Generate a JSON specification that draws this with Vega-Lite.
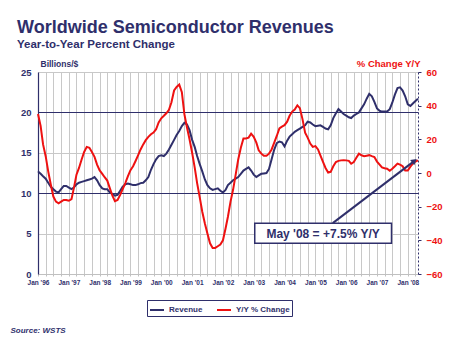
{
  "$schema": "https://vega.github.io/schema/vega-lite/v6.json",
  "width": 380,
  "height": 202,
  "autosize": "none",
  "padding": {"left": 38, "top": 72, "right": 32, "bottom": 63},
  "background": "white",
  "config": {
    "font": "Liberation Sans",
    "view": {"stroke": null},
    "axisRight": {
      "labelOverlap": false,
      "grid": false,
      "tickSize": 3,
      "tickColor": "#2f2f6b",
      "domainColor": "#2f2f6b",
      "domainDash": [2, 2],
      "labelColor": "#ee1111",
      "labelFontSize": 9.5,
      "labelFontWeight": "bold",
      "labelPadding": 5,
      "titleAngle": 0,
      "titleX": 2,
      "titleY": -6,
      "titleAlign": "right",
      "titleBaseline": "alphabetic",
      "titleFontSize": 9.5,
      "titleFontWeight": "bold",
      "titleColor": "#ee1111"
    }
  },
  "title": {
    "text": "Worldwide Semiconductor Revenues",
    "subtitle": "Year-to-Year Percent Change",
    "anchor": "start",
    "frame": "group",
    "dx": -21,
    "offset": 8,
    "fontSize": 18,
    "fontWeight": "bold",
    "color": "#2f2f6b",
    "subtitleFontSize": 11.5,
    "subtitleFontWeight": "bold",
    "subtitleColor": "#2f2f6b",
    "subtitlePadding": 2
  },
  "datasets": {
    "series": [
      {"date":"1996-01-01","revenue":12.7,"yoy":35},{"date":"1996-02-01","revenue":12.4,"yoy":28},{"date":"1996-03-01","revenue":12.1,"yoy":17},{"date":"1996-04-01","revenue":11.8,"yoy":10},{"date":"1996-05-01","revenue":11.3,"yoy":1},{"date":"1996-06-01","revenue":10.8,"yoy":-7},{"date":"1996-07-01","revenue":10.5,"yoy":-14},{"date":"1996-08-01","revenue":10.2,"yoy":-17},{"date":"1996-09-01","revenue":10.1,"yoy":-18},{"date":"1996-10-01","revenue":10.5,"yoy":-17},{"date":"1996-11-01","revenue":10.9,"yoy":-16},{"date":"1996-12-01","revenue":10.9,"yoy":-16},
      {"date":"1997-01-01","revenue":10.7,"yoy":-16.5},{"date":"1997-02-01","revenue":10.5,"yoy":-15.5},{"date":"1997-03-01","revenue":10.7,"yoy":-9},{"date":"1997-04-01","revenue":11.1,"yoy":-1},{"date":"1997-05-01","revenue":11.3,"yoy":3},{"date":"1997-06-01","revenue":11.4,"yoy":8},{"date":"1997-07-01","revenue":11.5,"yoy":12.5},{"date":"1997-08-01","revenue":11.6,"yoy":15.5},{"date":"1997-09-01","revenue":11.7,"yoy":15},{"date":"1997-10-01","revenue":11.8,"yoy":12.5},{"date":"1997-11-01","revenue":12.0,"yoy":9.6},{"date":"1997-12-01","revenue":11.6,"yoy":5},
      {"date":"1998-01-01","revenue":11.0,"yoy":1.5},{"date":"1998-02-01","revenue":10.6,"yoy":-0.5},{"date":"1998-03-01","revenue":10.5,"yoy":-2.5},{"date":"1998-04-01","revenue":10.5,"yoy":-4.5},{"date":"1998-05-01","revenue":10.1,"yoy":-9},{"date":"1998-06-01","revenue":9.9,"yoy":-13.5},{"date":"1998-07-01","revenue":9.7,"yoy":-16.7},{"date":"1998-08-01","revenue":9.8,"yoy":-16},{"date":"1998-09-01","revenue":10.3,"yoy":-13},{"date":"1998-10-01","revenue":10.8,"yoy":-9.5},{"date":"1998-11-01","revenue":11.1,"yoy":-6},{"date":"1998-12-01","revenue":11.2,"yoy":-2},
      {"date":"1999-01-01","revenue":11.1,"yoy":1.7},{"date":"1999-02-01","revenue":11.0,"yoy":4},{"date":"1999-03-01","revenue":11.0,"yoy":7},{"date":"1999-04-01","revenue":11.1,"yoy":10.5},{"date":"1999-05-01","revenue":11.25,"yoy":14},{"date":"1999-06-01","revenue":11.3,"yoy":17},{"date":"1999-07-01","revenue":11.6,"yoy":19.5},{"date":"1999-08-01","revenue":12.0,"yoy":21.5},{"date":"1999-09-01","revenue":12.9,"yoy":23},{"date":"1999-10-01","revenue":13.6,"yoy":24},{"date":"1999-11-01","revenue":14.2,"yoy":26},{"date":"1999-12-01","revenue":14.6,"yoy":30},
      {"date":"2000-01-01","revenue":14.7,"yoy":32.5},{"date":"2000-02-01","revenue":14.6,"yoy":34},{"date":"2000-03-01","revenue":14.9,"yoy":35.5},{"date":"2000-04-01","revenue":15.4,"yoy":37.5},{"date":"2000-05-01","revenue":16.0,"yoy":42},{"date":"2000-06-01","revenue":16.6,"yoy":49},{"date":"2000-07-01","revenue":17.2,"yoy":51.1},{"date":"2000-08-01","revenue":17.7,"yoy":52.5},{"date":"2000-09-01","revenue":18.3,"yoy":48},{"date":"2000-10-01","revenue":18.7,"yoy":35},{"date":"2000-11-01","revenue":18.5,"yoy":27},{"date":"2000-12-01","revenue":17.8,"yoy":20},
      {"date":"2001-01-01","revenue":16.6,"yoy":12},{"date":"2001-02-01","revenue":15.7,"yoy":3},{"date":"2001-03-01","revenue":14.6,"yoy":-6},{"date":"2001-04-01","revenue":13.6,"yoy":-14.5},{"date":"2001-05-01","revenue":12.7,"yoy":-23},{"date":"2001-06-01","revenue":11.7,"yoy":-30},{"date":"2001-07-01","revenue":11.0,"yoy":-36},{"date":"2001-08-01","revenue":10.6,"yoy":-41.8},{"date":"2001-09-01","revenue":10.4,"yoy":-44.5},{"date":"2001-10-01","revenue":10.5,"yoy":-44.5},{"date":"2001-11-01","revenue":10.6,"yoy":-43.5},{"date":"2001-12-01","revenue":10.3,"yoy":-42.5},
      {"date":"2002-01-01","revenue":10.1,"yoy":-40},{"date":"2002-02-01","revenue":10.4,"yoy":-33},{"date":"2002-03-01","revenue":11.0,"yoy":-26},{"date":"2002-04-01","revenue":11.3,"yoy":-17},{"date":"2002-05-01","revenue":11.6,"yoy":-10},{"date":"2002-06-01","revenue":11.8,"yoy":-1},{"date":"2002-07-01","revenue":12.0,"yoy":8},{"date":"2002-08-01","revenue":12.4,"yoy":15},{"date":"2002-09-01","revenue":12.8,"yoy":20.5},{"date":"2002-10-01","revenue":13.0,"yoy":20.5},{"date":"2002-11-01","revenue":13.2,"yoy":21},{"date":"2002-12-01","revenue":12.8,"yoy":23.4},
      {"date":"2003-01-01","revenue":12.3,"yoy":21.5},{"date":"2003-02-01","revenue":12.0,"yoy":18},{"date":"2003-03-01","revenue":12.2,"yoy":13.5},{"date":"2003-04-01","revenue":12.4,"yoy":11.5},{"date":"2003-05-01","revenue":12.45,"yoy":10.2},{"date":"2003-06-01","revenue":12.5,"yoy":10.2},{"date":"2003-07-01","revenue":13.0,"yoy":11.5},{"date":"2003-08-01","revenue":14.2,"yoy":14},{"date":"2003-09-01","revenue":15.4,"yoy":18},{"date":"2003-10-01","revenue":16.2,"yoy":22},{"date":"2003-11-01","revenue":16.4,"yoy":26.5},{"date":"2003-12-01","revenue":16.3,"yoy":27.5},
      {"date":"2004-01-01","revenue":15.8,"yoy":28.4},{"date":"2004-02-01","revenue":16.5,"yoy":30.5},{"date":"2004-03-01","revenue":17.0,"yoy":34},{"date":"2004-04-01","revenue":17.3,"yoy":36.5},{"date":"2004-05-01","revenue":17.6,"yoy":37.7},{"date":"2004-06-01","revenue":17.8,"yoy":40.2},{"date":"2004-07-01","revenue":18.0,"yoy":38.5},{"date":"2004-08-01","revenue":18.2,"yoy":32},{"date":"2004-09-01","revenue":18.4,"yoy":24},{"date":"2004-10-01","revenue":18.85,"yoy":21},{"date":"2004-11-01","revenue":18.75,"yoy":17.5},{"date":"2004-12-01","revenue":18.5,"yoy":15.5},
      {"date":"2005-01-01","revenue":18.3,"yoy":16},{"date":"2005-02-01","revenue":18.35,"yoy":14},{"date":"2005-03-01","revenue":18.4,"yoy":10.5},{"date":"2005-04-01","revenue":18.2,"yoy":6.6},{"date":"2005-05-01","revenue":18.0,"yoy":3},{"date":"2005-06-01","revenue":17.9,"yoy":0.3},{"date":"2005-07-01","revenue":18.4,"yoy":0.7},{"date":"2005-08-01","revenue":19.3,"yoy":4},{"date":"2005-09-01","revenue":19.9,"yoy":6.5},{"date":"2005-10-01","revenue":20.4,"yoy":7.2},{"date":"2005-11-01","revenue":20.1,"yoy":7.5},{"date":"2005-12-01","revenue":19.8,"yoy":7.6},
      {"date":"2006-01-01","revenue":19.6,"yoy":7.5},{"date":"2006-02-01","revenue":19.4,"yoy":7.2},{"date":"2006-03-01","revenue":19.3,"yoy":5.5},{"date":"2006-04-01","revenue":19.6,"yoy":6.5},{"date":"2006-05-01","revenue":19.8,"yoy":9},{"date":"2006-06-01","revenue":20.0,"yoy":11.5},{"date":"2006-07-01","revenue":20.5,"yoy":10.5},{"date":"2006-08-01","revenue":21.0,"yoy":10},{"date":"2006-09-01","revenue":21.7,"yoy":10.3},{"date":"2006-10-01","revenue":22.3,"yoy":10.6},{"date":"2006-11-01","revenue":22.0,"yoy":10},{"date":"2006-12-01","revenue":21.3,"yoy":9.5},
      {"date":"2007-01-01","revenue":20.5,"yoy":6.8},{"date":"2007-02-01","revenue":20.2,"yoy":5},{"date":"2007-03-01","revenue":20.1,"yoy":3.3},{"date":"2007-04-01","revenue":20.1,"yoy":2.8},{"date":"2007-05-01","revenue":20.1,"yoy":2.5},{"date":"2007-06-01","revenue":20.4,"yoy":1.3},{"date":"2007-07-01","revenue":21.2,"yoy":2.5},{"date":"2007-08-01","revenue":22.2,"yoy":4},{"date":"2007-09-01","revenue":23.0,"yoy":5.6},{"date":"2007-10-01","revenue":23.1,"yoy":5},{"date":"2007-11-01","revenue":22.7,"yoy":4},{"date":"2007-12-01","revenue":22.0,"yoy":1.5},
      {"date":"2008-01-01","revenue":21.0,"yoy":1.5},{"date":"2008-02-01","revenue":20.8,"yoy":3.8},{"date":"2008-03-01","revenue":21.1,"yoy":5.6},{"date":"2008-04-01","revenue":21.4,"yoy":6.8},{"date":"2008-05-01","revenue":21.7,"yoy":7.5}
    ],
    "note": [
      {"label":"May '08 = +7.5% Y/Y","boxStart":"2003-01-13","boxEnd":"2007-06-22","boxLow":-41.7,"boxHigh":-29.8,"textDate":"2005-04-02","textValue":-36.2,"arrowFromDate":"2005-07-25","arrowFrom":-29.8,"arrowToDate":"2008-03-20","arrowTo":7.2}
    ]
  },
  "layer": [
    {
      "layer": [
        {
          "data": {"name": "series"},
          "mark": {"type": "line", "strokeWidth": 2},
          "encoding": {
            "x": {
              "field": "date", "type": "temporal",
              "scale": {"type": "utc", "domain": ["1996-01-01", "2008-05-01"]},
              "axis": {
                "tickCount": {"interval": "month", "step": 3},
                "labelExpr": "utcmonth(datum.value) === 0 ? \"Jan '\" + utcFormat(datum.value, '%y') : ''",
                "labelOverlap": false,
                "labelFlush": false,
                "labelFontSize": 6.5,
                "labelFontWeight": "bold",
                "labelColor": "#2f2f6b",
                "labelPadding": 3,
                "tickSize": 2,
                "tickColor": "#c0c0c0",
                "domainColor": "#c0c0c0",
                "grid": true,
                "gridColor": "#c8c8c8",
                "gridWidth": 1,
                "title": "Source: WSTS",
                "titleX": -28,
                "titleY": 58,
                "titleAlign": "left",
                "titleBaseline": "alphabetic",
                "titleFontSize": 8,
                "titleFontStyle": "italic",
                "titleFontWeight": "bold",
                "titleColor": "#2f2f6b"
              }
            },
            "y": {
              "field": "revenue", "type": "quantitative",
              "scale": {"domain": [0, 25]},
              "axis": {
                "orient": "left",
                "values": [0, 5, 10, 15, 20, 25],
                "labelOverlap": false,
                "grid": true,
                "gridColor": {"condition": {"test": "datum.value === 10 || datum.value === 20", "value": "#2f2f6b"}, "value": "#c8c8c8"},
                "gridWidth": 1.2,
                "ticks": false,
                "domainColor": "#2f2f6b",
                "domainWidth": 1.2,
                "labelColor": "#2f2f6b",
                "labelFontSize": 9.5,
                "labelFontWeight": "bold",
                "labelPadding": 7,
                "title": "Billions/$",
                "titleAngle": 0,
                "titleX": 2,
                "titleY": -6,
                "titleAlign": "left",
                "titleBaseline": "alphabetic",
                "titleFontSize": 8.5,
                "titleFontWeight": "bold",
                "titleColor": "#2f2f6b"
              }
            },
            "color": {
              "datum": "Revenue", "type": "nominal",
              "scale": {"domain": ["Revenue", "Y/Y % Change"], "range": ["#2f2f6b", "#ee1111"]},
              "legend": {
                "orient": "none",
                "legendX": 109,
                "legendY": 228,
                "direction": "horizontal",
                "title": null,
                "symbolType": "stroke",
                "symbolSize": 196,
                "symbolStrokeWidth": 2,
                "labelFontSize": 8,
                "labelFontWeight": "bold",
                "labelColor": "#2f2f6b",
                "columnPadding": 10,
                "strokeColor": "#2f2f6b",
                "padding": 2,
                "fillColor": "white"
              }
            }
          }
        }
      ]
    },
    {
      "layer": [
        {
          "data": {"name": "series"},
          "mark": {"type": "line", "strokeWidth": 2},
          "encoding": {
            "x": {"field": "date", "type": "temporal", "scale": {"type": "utc", "domain": ["1996-01-01", "2008-05-01"]}},
            "y": {"field": "yoy", "type": "quantitative", "scale": {"domain": [-60, 60]}, "axis": {"orient": "right", "values": [-60, -40, -20, 0, 20, 40, 60], "title": "% Change Y/Y", "labelOverlap": false}},
            "color": {"datum": "Y/Y % Change", "type": "nominal"}
          }
        },
        {
          "data": {"name": "note"},
          "mark": {"type": "rule", "color": "#2f2f6b", "strokeWidth": 2},
          "encoding": {
            "x": {"field": "arrowFromDate", "type": "temporal", "scale": {"type": "utc", "domain": ["1996-01-01", "2008-05-01"]}},
            "x2": {"field": "arrowToDate"},
            "y": {"field": "arrowFrom", "type": "quantitative", "scale": {"domain": [-60, 60]}, "axis": {"orient": "right", "values": [-60, -40, -20, 0, 20, 40, 60], "title": "% Change Y/Y", "labelOverlap": false}},
            "y2": {"field": "arrowTo"}
          }
        },
        {
          "data": {"name": "note"},
          "mark": {"type": "point", "shape": "triangle-up", "filled": true, "color": "#2f2f6b", "size": 45, "angle": 52, "opacity": 1},
          "encoding": {
            "x": {"field": "arrowToDate", "type": "temporal", "scale": {"type": "utc", "domain": ["1996-01-01", "2008-05-01"]}},
            "y": {"field": "arrowTo", "type": "quantitative", "scale": {"domain": [-60, 60]}, "axis": {"orient": "right", "values": [-60, -40, -20, 0, 20, 40, 60], "title": "% Change Y/Y", "labelOverlap": false}}
          }
        },
        {
          "data": {"name": "note"},
          "mark": {"type": "rect", "fill": "white", "stroke": "#2f2f6b", "strokeWidth": 1.5},
          "encoding": {
            "x": {"field": "boxStart", "type": "temporal", "scale": {"type": "utc", "domain": ["1996-01-01", "2008-05-01"]}},
            "x2": {"field": "boxEnd"},
            "y": {"field": "boxLow", "type": "quantitative", "scale": {"domain": [-60, 60]}, "axis": {"orient": "right", "values": [-60, -40, -20, 0, 20, 40, 60], "title": "% Change Y/Y", "labelOverlap": false}},
            "y2": {"field": "boxHigh"}
          }
        },
        {
          "data": {"name": "note"},
          "mark": {"type": "text", "fontSize": 12, "fontWeight": "bold", "color": "#2f2f6b", "baseline": "middle", "align": "center"},
          "encoding": {
            "x": {"field": "textDate", "type": "temporal", "scale": {"type": "utc", "domain": ["1996-01-01", "2008-05-01"]}},
            "y": {"field": "textValue", "type": "quantitative", "scale": {"domain": [-60, 60]}, "axis": {"orient": "right", "values": [-60, -40, -20, 0, 20, 40, 60], "title": "% Change Y/Y", "labelOverlap": false}},
            "text": {"field": "label"}
          }
        }
      ]
    }
  ],
  "resolve": {"scale": {"y": "independent"}}
}
